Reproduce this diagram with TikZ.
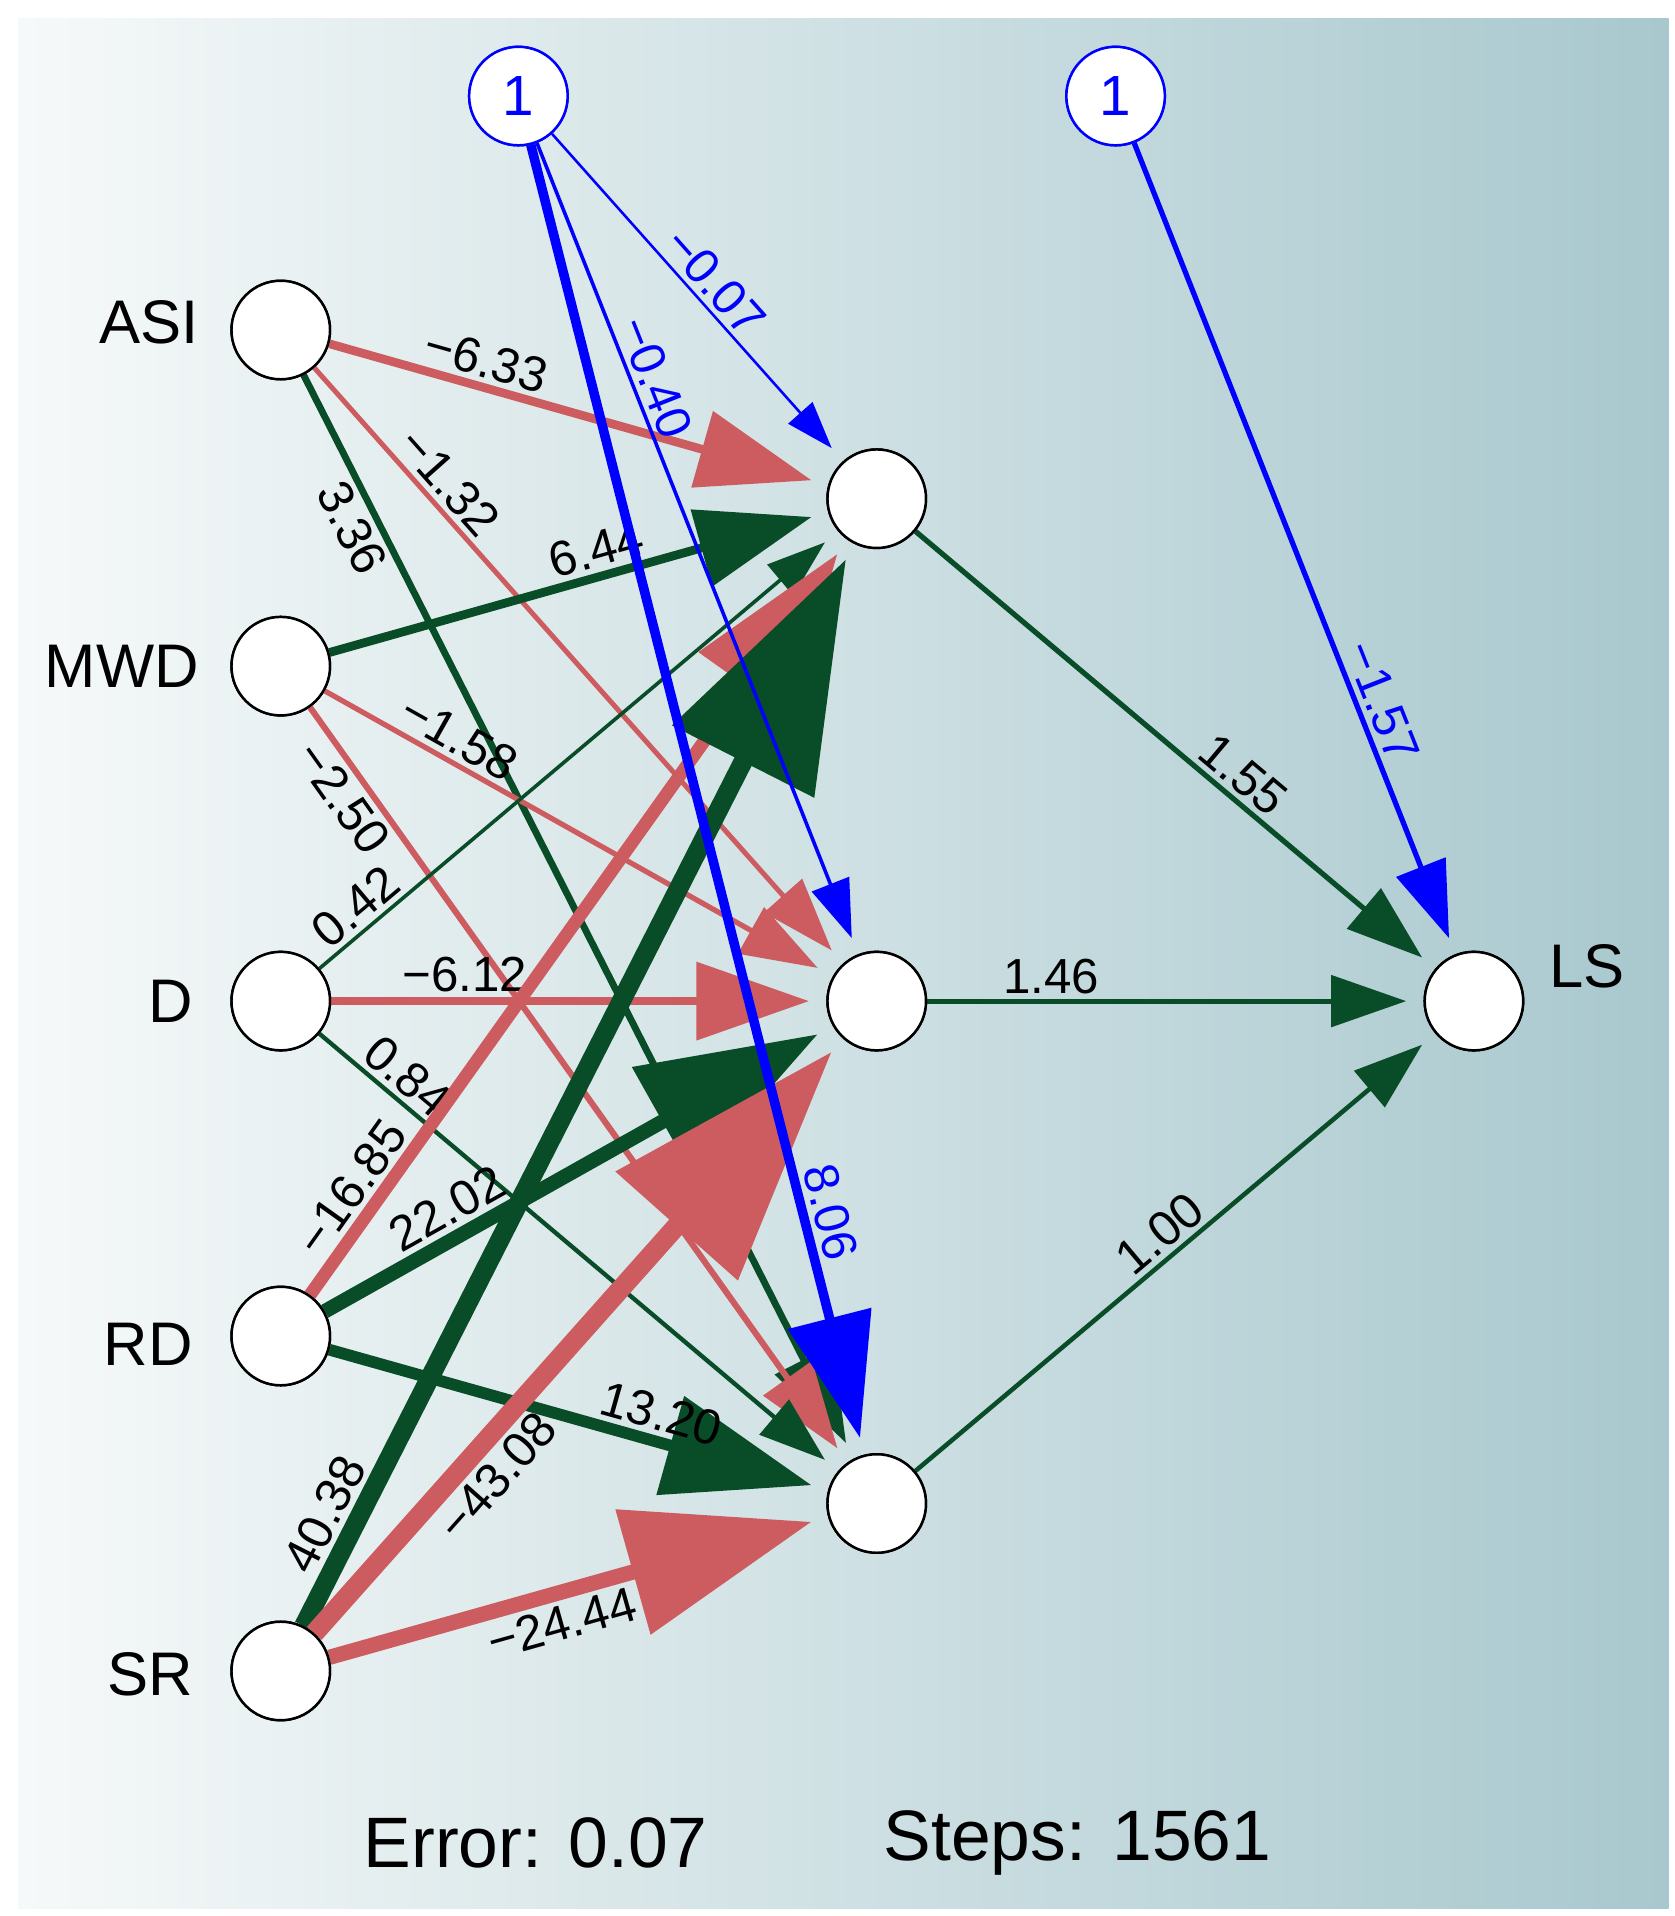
\documentclass[tikz,border=0pt]{standalone}
\usepackage{fontspec}
\setmainfont{Liberation Sans}
\usetikzlibrary{arrows.meta}
\definecolor{nred}{RGB}{205,92,96}
\definecolor{ngreen}{RGB}{8,76,40}
\definecolor{bgL}{RGB}{246,249,249}
\definecolor{bgR}{RGB}{168,200,206}
\tikzset{
 neuron/.style={circle,draw=black,fill=white,line width=2pt,minimum size=80pt,inner sep=0pt},
 bias/.style={circle,draw=blue,fill=white,line width=2pt,minimum size=80pt,inner sep=0pt,text=blue,font=\fontsize{46}{50}\selectfont},
 inlbl/.style={font=\fontsize{50}{56}\selectfont,text=black},
 lbl/.style={sloped,font=\fontsize{40}{44}\selectfont,text=black,inner sep=4pt}
}
\newcommand\nnedge[7]{%
 \pgfmathsetmacro\lw{1.5+2.2*sqrt(#4)}%
 \pgfmathsetmacro\hl{32+24*sqrt(#4)}%
 \pgfmathsetmacro\hw{0.68*\hl}%
 \draw[#3,line width=\lw pt,-{Triangle[length=\hl pt,width=\hw pt]},shorten >=14pt] (#1) -- node[lbl,pos=#6,#7]{#5} (#2);}
\begin{document}
\begin{tikzpicture}[x=1pt,y=-1pt]
\useasboundingbox (0,0) rectangle (1360,1556);
\shade[left color=bgL,right color=bgR] (15,15) rectangle (1355,1550);
% nodes
\node[neuron] (asi) at (228,268) {};
\node[neuron] (mwd) at (228,541) {};
\node[neuron] (d) at (228,813) {};
\node[neuron] (rd) at (228,1085) {};
\node[neuron] (sr) at (228,1357) {};
\node[neuron] (h1) at (712,405) {};
\node[neuron] (h2) at (712,813) {};
\node[neuron] (h3) at (712,1221) {};
\node[neuron] (ls) at (1197,813) {};
\node[bias] (b1) at (421,78) {1};
\node[bias] (b2) at (906,78) {1};
% edges
\nnedge{asi}{h1}{nred}{6.33}{−6.33}{0.3}{above}
\nnedge{asi}{h2}{nred}{1.32}{−1.32}{0.22}{above}
\nnedge{asi}{h3}{ngreen}{3.36}{3.36}{0.13}{below}
\nnedge{mwd}{h1}{ngreen}{6.44}{6.44}{0.55}{above}
\nnedge{mwd}{h2}{nred}{1.58}{−1.58}{0.24}{above}
\nnedge{mwd}{h3}{nred}{2.50}{−2.50}{0.1}{below}
\nnedge{d}{h1}{ngreen}{0.42}{0.42}{0.1}{above}
\nnedge{d}{h2}{nred}{6.12}{−6.12}{0.27}{above}
\nnedge{d}{h3}{ngreen}{0.84}{0.84}{0.14}{above}
\nnedge{rd}{h1}{nred}{16.85}{−16.85}{0.12}{above}
\nnedge{rd}{h2}{ngreen}{22.02}{22.02}{0.27}{above}
\nnedge{rd}{h3}{ngreen}{13.20}{13.20}{0.65}{above}
\nnedge{sr}{h1}{ngreen}{40.38}{40.38}{0.09}{above}
\nnedge{sr}{h2}{nred}{43.08}{−43.08}{0.3}{below}
\nnedge{sr}{h3}{nred}{24.44}{−24.44}{0.45}{below}
\nnedge{b1}{h1}{blue}{0.07}{−0.07}{0.5}{above,text=blue}
\nnedge{b1}{h2}{blue}{0.40}{−0.40}{0.3}{above,text=blue}
\nnedge{b1}{h3}{blue}{8.06}{8.06}{0.82}{above,text=blue}
\nnedge{b2}{ls}{blue}{1.57}{−1.57}{0.7}{above,text=blue}
\nnedge{h1}{ls}{ngreen}{1.55}{1.55}{0.6}{above}
\nnedge{h2}{ls}{ngreen}{1.46}{1.46}{0.25}{above}
\nnedge{h3}{ls}{ngreen}{1.00}{1.00}{0.5}{above}
% redraw nodes on top
\foreach \n in {asi,mwd,d,rd,sr,h1,h2,h3,ls}{\draw[line width=2pt,fill=white] (\n) circle (40pt);}
\foreach \n in {b1,b2}{\draw[blue,line width=2pt,fill=white] (\n) circle (40pt); \node[bias,draw=none,fill=none] at (\n) {1};}
% labels
\node[inlbl,anchor=east] (tasi) at (165,262) {ASI};
\node[inlbl,anchor=east] (tmwd) at (165,541) {MWD};
\node[inlbl,anchor=east] (td) at (160,813) {D};
\node[inlbl,anchor=east] (trd) at (160,1092) {RD};
\node[inlbl,anchor=east] (tsr) at (160,1360) {SR};
\node[inlbl,anchor=west] (tls) at (1255,785) {LS};
\node[font=\fontsize{58}{62}\selectfont] (err) at (435,1497) {Error: 0.07};
\node[font=\fontsize{58}{62}\selectfont] (stp) at (875,1497) {Steps: 1561};
\end{tikzpicture}
\end{document}
